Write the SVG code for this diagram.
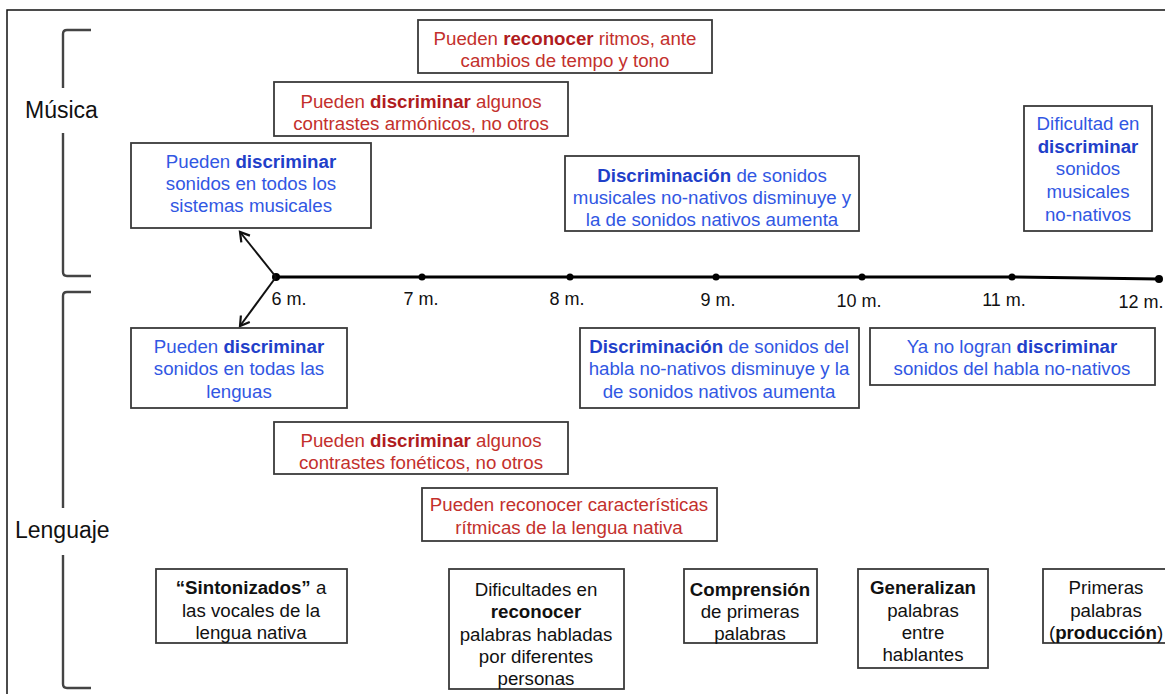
<svg xmlns="http://www.w3.org/2000/svg" width="1165" height="694" viewBox="0 0 1165 694">
<defs>
<marker id="arr" markerWidth="14" markerHeight="14" refX="11" refY="7" orient="auto" markerUnits="userSpaceOnUse">
<path d="M2,1.5 L11,7 L2,12.5" fill="none" stroke="#111" stroke-width="2.2" stroke-linejoin="miter"/>
</marker>
<style>
text{font-family:"Liberation Sans",Arial,Helvetica,sans-serif;font-size:18.7px;text-anchor:middle}
.box{fill:#fff;stroke:#3a3a3a;stroke-width:1.8}
.r{fill:#c3302c}
.r .k{fill:#b01c1e;font-weight:bold}
.u{fill:#3157e3}
.u .k{fill:#1f40c9;font-weight:bold}
.n{fill:#111}
.n .k{font-weight:bold}
.lbl{font-size:18px;fill:#111}
.sec{font-size:23px;fill:#111;text-anchor:start}
.brk{fill:none;stroke:#444;stroke-width:2.4}
</style>
</defs>
<rect width="1165" height="694" fill="#fff"/>
<path d="M7,694 V10 H1165" fill="none" stroke="#111" stroke-width="1.5"/>

<g id="musica">
<path class="brk" d="M91,30 H67 Q63,30 63,34 V88 M63,133 V272 Q63,276 67,276 H91"/>
<text class="sec" x="25" y="118">Música</text>
</g>
<g id="lenguaje">
<path class="brk" d="M91,292 H67 Q63,292 63,296 V508 M63,555 V684 Q63,688 67,688 H91"/>
<text class="sec" x="15" y="538">Lenguaje</text>
</g>

<g id="timeline">
<polyline points="276,277 1012,277 1159,279" fill="none" stroke="#000" stroke-width="3"/>
<g fill="#000">
<circle cx="276" cy="277" r="4"/>
<circle cx="422" cy="277" r="3.5"/>
<circle cx="570" cy="277" r="3.5"/>
<circle cx="716" cy="277" r="3.5"/>
<circle cx="862" cy="277" r="3.5"/>
<circle cx="1012" cy="277" r="3.5"/>
<circle cx="1159" cy="279" r="4"/>
</g>
<text class="lbl" x="289" y="305">6 m.</text>
<text class="lbl" x="421" y="305">7 m.</text>
<text class="lbl" x="567" y="305">8 m.</text>
<text class="lbl" x="718" y="306">9 m.</text>
<text class="lbl" x="859" y="307">10 m.</text>
<text class="lbl" x="1004" y="306">11 m.</text>
<text class="lbl" x="1141" y="308">12 m.</text>
</g>

<g id="connectors">
<line x1="276" y1="277" x2="240" y2="232" stroke="#111" stroke-width="2" marker-end="url(#arr)"/>
<line x1="276" y1="277" x2="240" y2="326" stroke="#111" stroke-width="2" marker-end="url(#arr)"/>
</g>

<g id="n1">
<rect class="box" x="418" y="20" width="294" height="53"/>
<text class="r" x="565" y="45">Pueden <tspan class="k">reconocer</tspan> ritmos, ante</text>
<text class="r" x="565" y="67">cambios de tempo y tono</text>
</g>
<g id="n2">
<rect class="box" x="274" y="82" width="294" height="54"/>
<text class="r" x="421" y="108">Pueden <tspan class="k">discriminar</tspan> algunos</text>
<text class="r" x="421" y="130">contrastes armónicos, no otros</text>
</g>
<g id="n3">
<rect class="box" x="131" y="143" width="240" height="85"/>
<text class="u" x="251" y="168">Pueden <tspan class="k">discriminar</tspan></text>
<text class="u" x="251" y="190">sonidos en todos los</text>
<text class="u" x="251" y="212">sistemas musicales</text>
</g>
<g id="n4">
<rect class="box" x="565" y="156" width="294" height="75"/>
<text class="u" x="712" y="182"><tspan class="k">Discriminación</tspan> de sonidos</text>
<text class="u" x="712" y="204">musicales no-nativos disminuye y</text>
<text class="u" x="712" y="226">la de sonidos nativos aumenta</text>
</g>
<g id="n5">
<rect class="box" x="1024" y="106" width="128" height="125"/>
<text class="u" x="1088" y="130">Dificultad en</text>
<text class="u" x="1088" y="153"><tspan class="k">discriminar</tspan></text>
<text class="u" x="1088" y="175">sonidos</text>
<text class="u" x="1088" y="198">musicales</text>
<text class="u" x="1088" y="221">no-nativos</text>
</g>
<g id="n6">
<rect class="box" x="131" y="328" width="216" height="80"/>
<text class="u" x="239" y="353">Pueden <tspan class="k">discriminar</tspan></text>
<text class="u" x="239" y="375">sonidos en todas las</text>
<text class="u" x="239" y="398">lenguas</text>
</g>
<g id="n7">
<rect class="box" x="580" y="328" width="279" height="80"/>
<text class="u" x="719" y="353"><tspan class="k">Discriminación</tspan> de sonidos del</text>
<text class="u" x="719" y="375">habla no-nativos disminuye y la</text>
<text class="u" x="719" y="398">de sonidos nativos aumenta</text>
</g>
<g id="n8">
<rect class="box" x="870" y="328" width="285" height="57"/>
<text class="u" x="1012" y="353">Ya no logran <tspan class="k">discriminar</tspan></text>
<text class="u" x="1012" y="375">sonidos del habla no-nativos</text>
</g>
<g id="n9">
<rect class="box" x="274" y="422" width="294" height="52"/>
<text class="r" x="421" y="447">Pueden <tspan class="k">discriminar</tspan> algunos</text>
<text class="r" x="421" y="469">contrastes fonéticos, no otros</text>
</g>
<g id="n10">
<rect class="box" x="422" y="488" width="295" height="53"/>
<text class="r" x="569" y="511">Pueden reconocer características</text>
<text class="r" x="569" y="534">rítmicas de la lengua nativa</text>
</g>
<g id="n11">
<rect class="box" x="156" y="569" width="191" height="74"/>
<text class="n" x="251" y="594"><tspan class="k">“Sintonizados”</tspan> a</text>
<text class="n" x="251" y="617">las vocales de la</text>
<text class="n" x="251" y="639">lengua nativa</text>
</g>
<g id="n12">
<rect class="box" x="449" y="569" width="175" height="120"/>
<text class="n" x="536" y="596">Dificultades en</text>
<text class="n" x="536" y="618"><tspan class="k">reconocer</tspan></text>
<text class="n" x="536" y="641">palabras habladas</text>
<text class="n" x="536" y="663">por diferentes</text>
<text class="n" x="536" y="685">personas</text>
</g>
<g id="n13">
<rect class="box" x="684" y="569" width="133" height="74"/>
<text class="n" x="750" y="596"><tspan class="k">Comprensión</tspan></text>
<text class="n" x="750" y="618">de primeras</text>
<text class="n" x="750" y="640">palabras</text>
</g>
<g id="n14">
<rect class="box" x="858" y="569" width="130" height="99"/>
<text class="n" x="923" y="594"><tspan class="k">Generalizan</tspan></text>
<text class="n" x="923" y="617">palabras</text>
<text class="n" x="923" y="639">entre</text>
<text class="n" x="923" y="661">hablantes</text>
</g>
<g id="n15">
<rect class="box" x="1043" y="569" width="130" height="74"/>
<text class="n" x="1106" y="594">Primeras</text>
<text class="n" x="1106" y="617">palabras</text>
<text class="n" x="1106" y="639">(<tspan class="k">producción</tspan>)</text>
</g>
</svg>
